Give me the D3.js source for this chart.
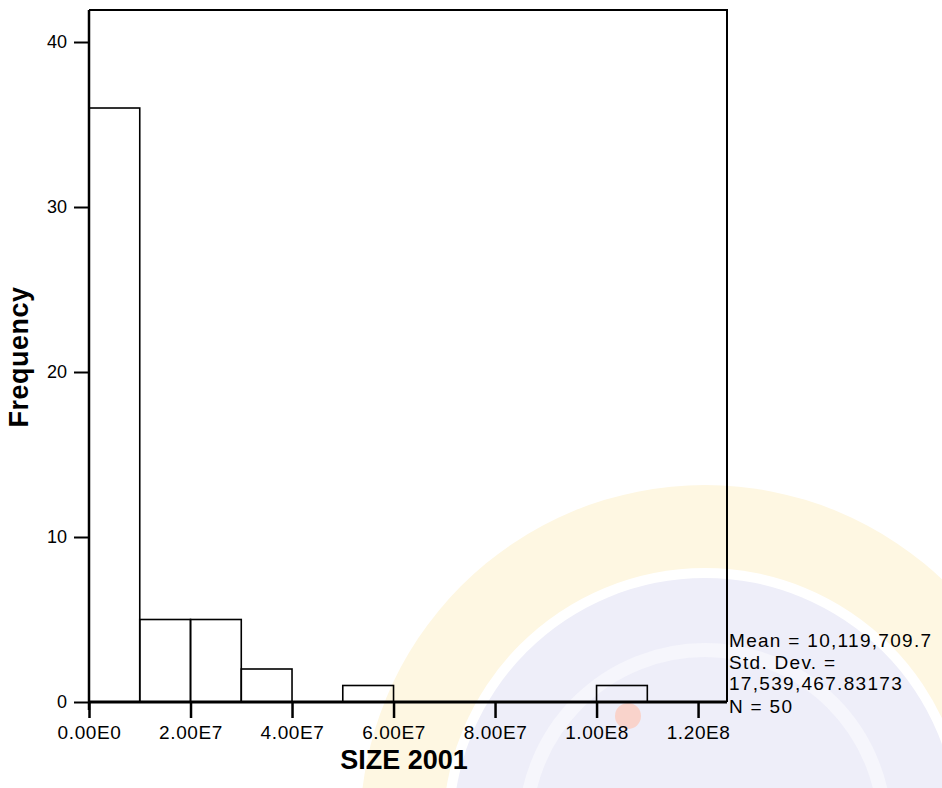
<!DOCTYPE html>
<html>
<head>
<meta charset="utf-8">
<script src="https://cdn.jsdelivr.net/npm/d3@7"></script>
<style>
  body { margin: 0; background: #fff; }
  svg { display: block; }
  text { font-family: "Liberation Sans", Arial, sans-serif; fill: #000; }
</style>
</head>
<body>
<svg id="chart" width="942" height="788"></svg>
<script>
// histogram bins (SIZE 2001), width 1e7
var binLower = [0, 1e7, 2e7, 3e7, 5e7, 1e8];
var binUpper = [1e7, 2e7, 3e7, 4e7, 6e7, 1.1e8];
var frequency = [36, 5, 5, 2, 1, 1];

var xTickValues = [0, 2e7, 4e7, 6e7, 8e7, 1e8, 1.2e8];
var xTickLabels = ['0.00E0', '2.00E7', '4.00E7', '6.00E7', '8.00E7', '1.00E8', '1.20E8'];
var yTickValues = [0, 10, 20, 30, 40];

var statLines = ['Mean = 10,119,709.7', 'Std. Dev. =', '17,539,467.83173', 'N = 50'];

var svg = d3.select('#chart');

// plot area (frame)
var plotLeft = 89, plotRight = 727, plotTop = 10, plotBottom = 702;

var x = d3.scaleLinear().domain([0, 1.257e8]).range([plotLeft, plotRight]);
var y = d3.scaleLinear().domain([0, 41.94]).range([plotBottom, plotTop]);

// faint watermark behind the chart
var wm = svg.append('g').attr('class', 'watermark');
wm.append('circle').attr('cx', 705).attr('cy', 830).attr('r', 345)
    .attr('fill', '#fef7e2');
wm.append('circle').attr('cx', 705).attr('cy', 830).attr('r', 262)
    .attr('fill', '#ffffff');
wm.append('circle').attr('cx', 705).attr('cy', 830).attr('r', 252)
    .attr('fill', '#eeeef9');
wm.append('circle').attr('cx', 705).attr('cy', 830).attr('r', 180)
    .attr('fill', 'none').attr('stroke', '#f6f6fc').attr('stroke-width', 14);
wm.append('circle').attr('cx', 628).attr('cy', 716).attr('r', 13)
    .attr('fill', '#f9d3cb');

// bars (unfilled)
svg.append('g').selectAll('rect')
    .data(frequency)
    .enter().append('rect')
    .attr('x', function(d, i) { return x(binLower[i]); })
    .attr('y', function(d) { return y(d); })
    .attr('width', function(d, i) { return x(binUpper[i]) - x(binLower[i]); })
    .attr('height', function(d) { return y(0) - y(d); })
    .attr('fill', 'none')
    .attr('stroke', '#000')
    .attr('stroke-width', 1.6);

// frame top + right
svg.append('path')
    .attr('d', 'M' + plotLeft + ',' + plotTop + 'H' + plotRight + 'V' + plotBottom)
    .attr('fill', 'none')
    .attr('stroke', '#000')
    .attr('stroke-width', 2);

// x axis
var xAxis = d3.axisBottom(x)
    .tickValues(xTickValues)
    .tickFormat(function(d, i) { return xTickLabels[i]; })
    .tickSize(16)
    .tickPadding(8);

var gx = svg.append('g')
    .attr('transform', 'translate(0,' + plotBottom + ')')
    .call(xAxis);
gx.select('.domain').attr('d', 'M' + plotLeft + ',0H' + plotRight).attr('stroke-width', 3);
gx.selectAll('.tick line').attr('stroke-width', 2.5);
gx.selectAll('.tick text')
    .attr('font-size', 19)
    .attr('font-family', '"Liberation Sans", Arial, sans-serif')
    .attr('letter-spacing', 0.6);

// y axis
var yAxis = d3.axisLeft(y)
    .tickValues(yTickValues)
    .tickSize(15)
    .tickPadding(7);

var gy = svg.append('g')
    .attr('transform', 'translate(' + plotLeft + ',0)')
    .call(yAxis);
gy.select('.domain').attr('d', 'M0,' + plotTop + 'V' + (plotBottom + 8)).attr('stroke-width', 2.5);
gy.selectAll('.tick line').attr('stroke-width', 2);
gy.selectAll('.tick text')
    .attr('font-size', 18)
    .attr('font-family', '"Liberation Sans", Arial, sans-serif');

// axis titles
svg.append('text')
    .attr('x', 404)
    .attr('y', 760)
    .attr('dy', '0.35em')
    .attr('text-anchor', 'middle')
    .attr('font-size', 27)
    .attr('font-weight', 'bold')
    .text('SIZE 2001');

svg.append('text')
    .attr('transform', 'translate(19,357) rotate(-90)')
    .attr('dy', '0.35em')
    .attr('text-anchor', 'middle')
    .attr('font-size', 27)
    .attr('font-weight', 'bold')
    .attr('letter-spacing', 0.5)
    .text('Frequency');

// summary statistics at the right
var statY = [640, 662, 683, 706];
svg.append('g').selectAll('text')
    .data(statLines)
    .enter().append('text')
    .attr('x', plotRight + 2)
    .attr('y', function(d, i) { return statY[i]; })
    .attr('dy', '0.35em')
    .attr('font-size', 19)
    .attr('letter-spacing', 1.3)
    .text(function(d) { return d; });
</script>
</body>
</html>
